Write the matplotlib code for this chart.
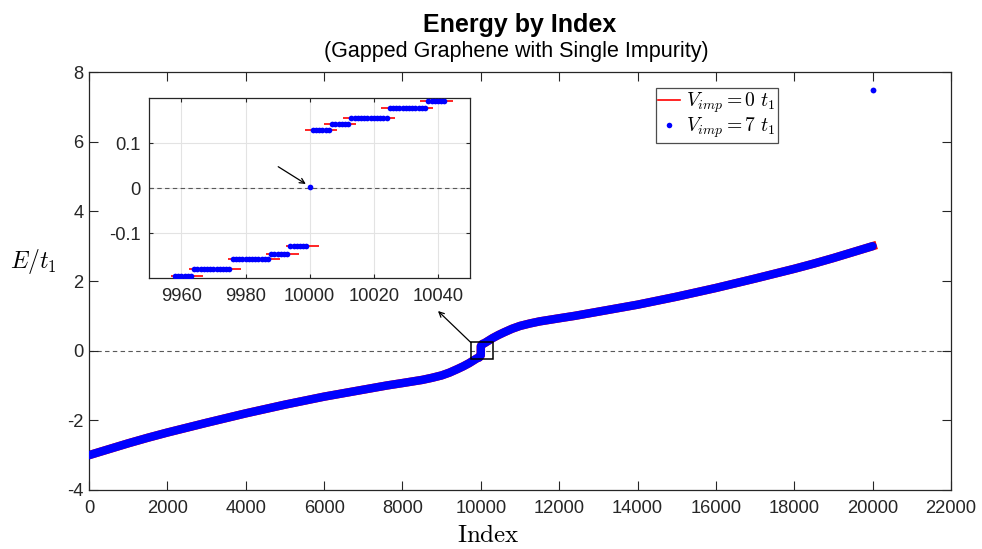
import numpy as np
import matplotlib
matplotlib.use("Agg")
import matplotlib.pyplot as plt
from matplotlib.lines import Line2D
from matplotlib.patches import Rectangle

plt.rcParams['font.family'] = ['Liberation Sans', 'DejaVu Sans']
plt.rcParams['mathtext.fontset'] = 'cm'
plt.rcParams['axes.unicode_minus'] = False

# ---- full spectrum (sampled eigenvalues, energy in units of t1) ----
clean_idx = [1, 500, 1000, 1500, 2000, 3000, 4000, 5000, 6000, 7000, 7600, 8000,
             8500, 8750, 9000, 9200, 9400, 9550, 9700, 9800, 9900, 9958, 9999,
             10001, 10042, 10100, 10200, 10300, 10450, 10600, 10800, 11000, 11250,
             11500, 12000, 12400, 13000,
             14000, 15000, 16000, 17000, 18000, 18500, 19000, 19500, 20000]
clean_E = [-3.00, -2.83, -2.66, -2.50, -2.35, -2.07, -1.80, -1.55, -1.32, -1.12, -1.00, -0.93,
           -0.84, -0.78, -0.71, -0.63, -0.53, -0.45, -0.36, -0.29, -0.22, -0.195, -0.129,
           0.129, 0.193, 0.22, 0.29, 0.36, 0.45, 0.53, 0.63, 0.71, 0.78,
           0.84, 0.93, 1.00, 1.12,
           1.32, 1.55, 1.80, 2.07, 2.35, 2.50, 2.66, 2.83, 3.00]

imp_idx = [1, 500, 1000, 1500, 2000, 3000, 4000, 5000, 6000, 7000, 7600, 8000,
           8500, 8750, 9000, 9200, 9400, 9550, 9700, 9800, 9900, 9958, 9999, 10000,
           10001, 10042, 10100, 10200, 10300, 10450, 10600, 10800, 11000, 11250,
           11500, 12000, 12400, 13000,
           14000, 15000, 16000, 17000, 18000, 18500, 19000, 19500, 19999]
imp_E = [-3.00, -2.83, -2.66, -2.50, -2.35, -2.07, -1.80, -1.55, -1.32, -1.12, -1.00, -0.93,
         -0.84, -0.78, -0.71, -0.63, -0.53, -0.45, -0.36, -0.29, -0.22, -0.195, -0.129, 0.004,
         0.129, 0.193, 0.22, 0.29, 0.36, 0.45, 0.53, 0.63, 0.71, 0.78,
         0.84, 0.93, 1.00, 1.12,
         1.32, 1.55, 1.80, 2.07, 2.35, 2.50, 2.66, 2.83, 3.00]

# bound state split off by the impurity
bound_idx = [20000]
bound_E = [7.47]

# ---- zoom near the gap: degenerate levels ----
levels = [-0.195, -0.179, -0.158, -0.145, -0.129, 0.129, 0.143, 0.157, 0.178, 0.193]
clean_lo = [9956.7, 9962.5, 9974.6, 9986.5, 9992.5, 9998.4, 10004.4, 10010.3, 10022.3, 10034.4]
clean_hi = [9966.7, 9978.5, 9990.6, 9996.6, 10002.8, 10008.6, 10014.6, 10026.5, 10038.5, 10044.6]
imp_first = [9958, 9964, 9976, 9988, 9994, 10001, 10007, 10013, 10025, 10037]
imp_last = [9963, 9975, 9987, 9993, 9999, 10006, 10012, 10024, 10036, 10042]
zero_mode_idx = 10000
zero_mode_E = 0.004

W, H = 982, 549
fig = plt.figure(figsize=(W / 100, H / 100), dpi=100)

axc = '#262626'
ax = fig.add_axes([89 / W, 59 / H, 862 / W, 418 / H])
ax.axhline(0, color='0.35', lw=0.8, ls=(0, (4, 3)), zorder=1)
ax.plot(clean_idx, clean_E, color='#ff0000', lw=6.1, solid_capstyle='projecting',
        solid_joinstyle='round', zorder=2)
ax.plot(imp_idx, imp_E, color='#0000ff', lw=6.0, solid_capstyle='round',
        solid_joinstyle='round', zorder=3)
ax.plot(bound_idx, bound_E, 'o', color='#0000ff', ms=4.2, mec='none', zorder=3)
ax.add_patch(Rectangle((9740, -0.24), 560, 0.48, fill=False, ec='k', lw=1.1, zorder=4))

ax.set_xlim(0, 22000)
ax.set_ylim(-4, 8)
ax.set_xticks(np.arange(0, 22001, 2000))
ax.set_yticks(np.arange(-4, 9, 2))
ax.tick_params(direction='in', length=6.2, width=0.8, colors=axc, labelsize=13.2,
               top=True, right=True, labelcolor=axc)
ax.tick_params(axis='x', pad=7)
ax.tick_params(axis='y', pad=4)
for s in ax.spines.values():
    s.set_color(axc)
    s.set_linewidth(0.9)

fig.text(520 / W, 1 - 32 / H, 'Energy by Index', ha='center', va='baseline',
         fontsize=18, fontweight='bold', color='k')
fig.text(516 / W, 1 - 57.5 / H, '(Gapped Graphene with Single Impurity)', ha='center',
         va='baseline', fontsize=15.5, color='k')
fig.text(33 / W, 1 - 262 / H, r'$E/t_1$', ha='center', va='center', fontsize=17)
fig.text(488 / W, 1 - 535 / H, r'$\mathrm{Index}$', ha='center', va='center', fontsize=18)

handles = [Line2D([], [], color='#ff0000', lw=1.2),
           Line2D([], [], color='#0000ff', marker='o', ms=4, ls='none', mec='none')]
labels = [r'$V_{imp} = 0\ t_1$', r'$V_{imp} = 7\ t_1$']
leg = ax.legend(handles, labels, loc='upper left', bbox_to_anchor=(656 / W, 1 - 88 / H),
                bbox_transform=fig.transFigure, borderaxespad=0, fontsize=14.2,
                handlelength=1.1, handletextpad=0.3, borderpad=0.12, labelspacing=0.05,
                fancybox=False, framealpha=1, edgecolor='0.3')
leg.get_frame().set_linewidth(0.9)

# ---- inset ----
ins = fig.add_axes([149.3 / W, 1 - 278.3 / H, 320.7 / W, 180 / H])
ins.grid(True, color='#e3e3e3', lw=0.8, zorder=0)
ins.axhline(0, color='0.35', lw=0.8, ls=(0, (4, 3)), zorder=1)
ins.hlines(levels, clean_lo, clean_hi, colors='#ff0000', lw=1.2, zorder=2)
for lev, a, b in zip(levels, imp_first, imp_last):
    xs = np.arange(a, b + 1)
    ins.plot(xs, np.full(len(xs), lev), 'o', color='#0000ff', ms=4.1, mec='none', zorder=3)
ins.plot([zero_mode_idx], [zero_mode_E], 'o', color='#0000ff', ms=4.1, mec='none', zorder=3)
ins.set_xlim(9950, 10050)
ins.set_ylim(-0.2, 0.2)
ins.set_xticks(np.arange(9960, 10041, 20))
ins.set_yticks([-0.1, 0, 0.1])
ins.set_yticklabels(['-0.1', '0', '0.1'])
ins.tick_params(direction='in', length=2.6, width=0.8, colors=axc, labelsize=13.2,
                top=True, right=True, labelcolor=axc)
ins.tick_params(axis='x', pad=7)
ins.tick_params(axis='y', pad=6)
ins.set_axisbelow(True)
for s in ins.spines.values():
    s.set_color(axc)
    s.set_linewidth(0.9)

ins.annotate('', xy=(9998.8, 0.0096), xytext=(9990.2, 0.048), xycoords='data',
             textcoords='data',
             arrowprops=dict(arrowstyle='->', color='k', lw=0.9, mutation_scale=9,
                             shrinkA=0, shrinkB=0))
ax.annotate('', xy=(438 / W, 1 - 311 / H), xycoords='figure fraction',
            xytext=(9740, 0.24), textcoords='data',
            arrowprops=dict(arrowstyle='->', color='k', lw=0.9, mutation_scale=9,
                            shrinkA=0, shrinkB=0))

fig.savefig('out.png', dpi=100)
